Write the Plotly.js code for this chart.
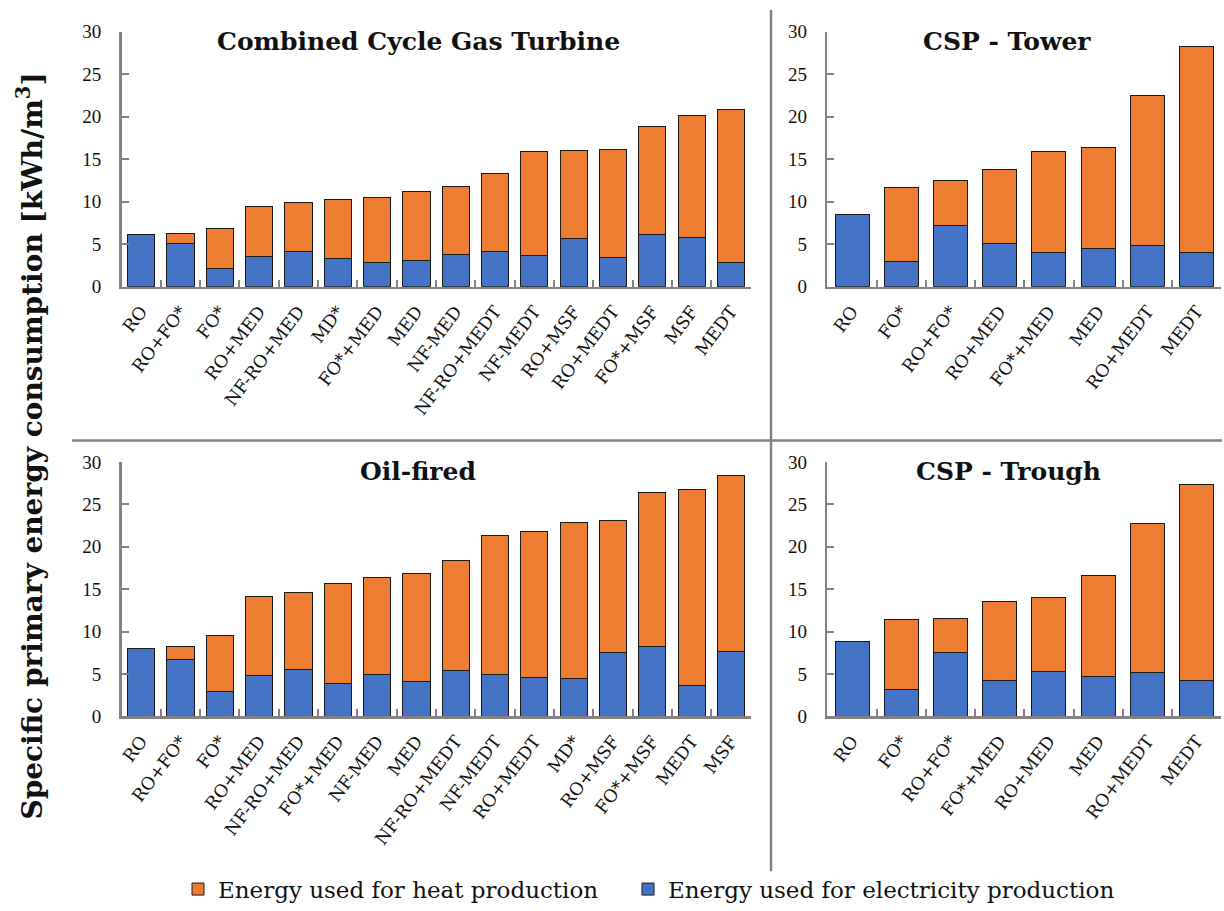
<!DOCTYPE html>
<html>
<head>
<meta charset="utf-8">
<script src="https://cdn.plot.ly/plotly-3.0.1.min.js"></script>
<style>html,body{margin:0;padding:0;background:#fff;}#chart{width:1224px;height:911px;}</style>
</head>
<body>
<div id="chart"></div>
<script>
// ---- Data (kWh/m3) ----
const ccgtCats = ["RO","RO+FO*","FO*","RO+MED","NF-RO+MED","MD*","FO*+MED","MED","NF-MED","NF-RO+MEDT","NF-MEDT","RO+MSF","RO+MEDT","FO*+MSF","MSF","MEDT"];
const ccgtElec = [6.1, 5.15, 2.15, 3.6, 4.15, 3.3, 2.9, 3.15, 3.75, 4.1, 3.65, 5.65, 3.45, 6.2, 5.8, 2.8];
const ccgtHeat = [0, 1.15, 4.65, 5.85, 5.8, 7.0, 7.55, 8.1, 8.1, 9.25, 12.25, 10.35, 12.75, 12.65, 14.4, 18.05];

const towerCats = ["RO","FO*","RO+FO*","RO+MED","FO*+MED","MED","RO+MEDT","MEDT"];
const towerElec = [8.5, 3.0, 7.25, 5.1, 4.05, 4.45, 4.9, 4.05];
const towerHeat = [0, 8.7, 5.2, 8.7, 11.9, 11.95, 17.6, 24.25];

const oilCats = ["RO","RO+FO*","FO*","RO+MED","NF-RO+MED","FO*+MED","NF-MED","MED","NF-RO+MEDT","NF-MEDT","RO+MEDT","MD*","RO+MSF","FO*+MSF","MEDT","MSF"];
const oilElec = [8.05, 6.7, 2.9, 4.8, 5.55, 3.85, 5.0, 4.15, 5.45, 4.9, 4.6, 4.5, 7.5, 8.25, 3.7, 7.65];
const oilHeat = [0, 1.6, 6.65, 9.3, 9.05, 11.8, 11.35, 12.7, 12.95, 16.4, 17.2, 18.35, 15.55, 18.2, 23.0, 20.75];

const troughCats = ["RO","FO*","RO+FO*","FO*+MED","RO+MED","MED","RO+MEDT","MEDT"];
const troughElec = [8.85, 3.15, 7.5, 4.25, 5.3, 4.7, 5.2, 4.25];
const troughHeat = [0, 8.3, 4.05, 9.3, 8.75, 11.95, 17.6, 23.05];

const panelTitles = ["Combined Cycle Gas Turbine", "CSP - Tower", "Oil-fired", "CSP - Trough"];
const seriesNames = ["Energy used for electricity production", "Energy used for heat production"];
const yTitle = "Specific primary energy consumption [kWh/m<sup>3</sup>]";

// ---- Styling ----
const SERIF = "Liberation Serif, Times New Roman, serif";
const WIDE = "DejaVu Serif, serif";
const BLUE = "#4472C4", ORANGE = "#ED7D31", GRAY = "#828282";
const W = 1224, H = 911;
const px = v => v / W;
const py = v => (H - v) / H;

const panels = [
  {cats: ccgtCats, elec: ccgtElec, heat: ccgtHeat, xa: "x", ya: "y"},
  {cats: towerCats, elec: towerElec, heat: towerHeat, xa: "x2", ya: "y2"},
  {cats: oilCats, elec: oilElec, heat: oilHeat, xa: "x3", ya: "y3"},
  {cats: troughCats, elec: troughElec, heat: troughHeat, xa: "x4", ya: "y4"}
];

const traces = [];
panels.forEach((p, i) => {
  traces.push({type: "bar", x: p.cats, y: p.elec, xaxis: p.xa, yaxis: p.ya, name: seriesNames[0],
    marker: {color: BLUE, line: {color: "#1a1a1a", width: 1}}, showlegend: i === 0, legend: "legend2"});
  traces.push({type: "bar", x: p.cats, y: p.heat, xaxis: p.xa, yaxis: p.ya, name: seriesNames[1],
    marker: {color: ORANGE, line: {color: "#1a1a1a", width: 1}}, showlegend: i === 0, legend: "legend"});
});

function xax(domain, anchor) {
  return {domain: domain, anchor: anchor, type: "category", showgrid: false, zeroline: false,
    showline: true, linecolor: GRAY, linewidth: 2.5, ticks: "inside", tickson: "boundaries",
    ticklen: 7, tickwidth: 2, tickcolor: GRAY, tickangle: -53, ticklabelstandoff: 5,
    tickfont: {family: WIDE, size: 17.5, color: "#111"}, fixedrange: true};
}
function yax(domain, anchor) {
  return {domain: domain, anchor: anchor, range: [0, 30], dtick: 5, showgrid: false, zeroline: false,
    showline: true, linecolor: GRAY, linewidth: 2.5, ticks: "inside", ticklen: 7, tickwidth: 2,
    tickcolor: GRAY, ticklabelstandoff: 14, tickfont: {family: SERIF, size: 19, color: "#111"}, fixedrange: true};
}

const xLeft = [px(121.5), px(750.7)], xRight = [px(827.4), px(1221.3)];
const yTop = [py(289), py(32)], yBot = [py(722), py(465.5)];

const titleFont = {family: WIDE, size: 25, color: "#111"};
const legendFont = {family: WIDE, size: 23, color: "#111"};
const layout = {
  width: W, height: H, margin: {l: 0, r: 0, t: 0, b: 0},
  paper_bgcolor: "#fff", plot_bgcolor: "rgba(0,0,0,0)",
  barmode: "stack", bargap: 0.31,
  font: {family: SERIF, color: "#111"},
  xaxis: xax(xLeft, "y"), yaxis: yax(yTop, "x"),
  xaxis2: xax(xRight, "y2"), yaxis2: yax(yTop, "x2"),
  xaxis3: xax(xLeft, "y3"), yaxis3: yax(yBot, "x3"),
  xaxis4: xax(xRight, "y4"), yaxis4: yax(yBot, "x4"),
  showlegend: true,
  legend: {orientation: "h", x: px(178), xanchor: "left", y: py(896), yanchor: "middle",
    font: legendFont, itemwidth: 30, bgcolor: "rgba(0,0,0,0)"},
  legend2: {orientation: "h", x: px(628), xanchor: "left", y: py(896), yanchor: "middle",
    font: legendFont, itemwidth: 30, bgcolor: "rgba(0,0,0,0)"},
  annotations: [
    {text: "<b>" + panelTitles[0] + "</b>", xref: "paper", yref: "paper", x: px(418), y: py(42), showarrow: false, xanchor: "center", yanchor: "middle", font: titleFont},
    {text: "<b>" + panelTitles[1] + "</b>", xref: "paper", yref: "paper", x: px(1007), y: py(42), showarrow: false, xanchor: "center", yanchor: "middle", font: titleFont},
    {text: "<b>" + panelTitles[2] + "</b>", xref: "paper", yref: "paper", x: px(418), y: py(475), showarrow: false, xanchor: "center", yanchor: "middle", font: titleFont},
    {text: "<b>" + panelTitles[3] + "</b>", xref: "paper", yref: "paper", x: px(1008), y: py(475), showarrow: false, xanchor: "center", yanchor: "middle", font: titleFont},
    {text: "<b>" + yTitle + "</b>", xref: "paper", yref: "paper", x: px(31), y: py(450), textangle: -90, showarrow: false, xanchor: "center", yanchor: "middle", font: {family: WIDE, size: 28, color: "#111"}}
  ],
  shapes: [
    {type: "line", xref: "paper", yref: "paper", x0: px(72), x1: px(1222), y0: py(444), y1: py(444), line: {color: GRAY, width: 2.5}},
    {type: "line", xref: "paper", yref: "paper", x0: px(771), x1: px(771), y0: py(10), y1: py(878), line: {color: GRAY, width: 2.5}}
  ]
};

Plotly.newPlot("chart", traces, layout, {displayModeBar: false, staticPlot: true});
</script>
</body>
</html>
